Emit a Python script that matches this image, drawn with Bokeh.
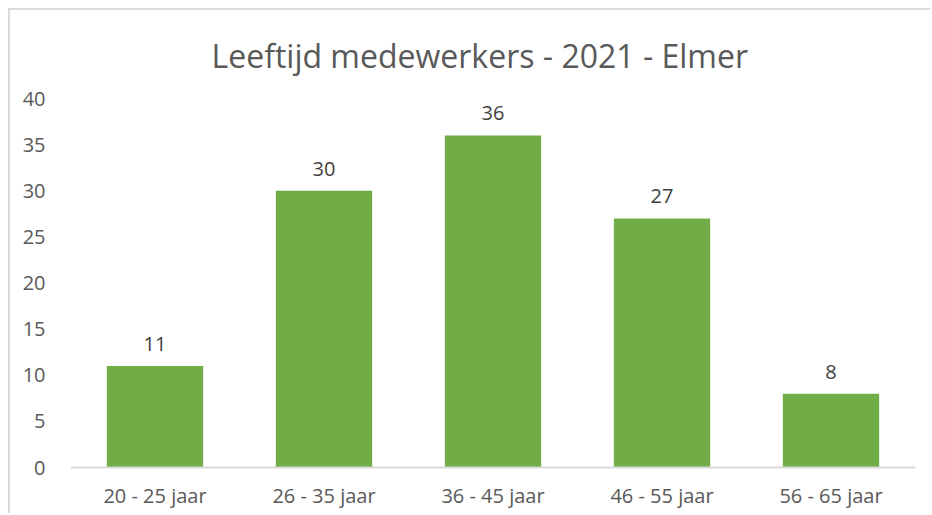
from bokeh.plotting import figure
from bokeh.models import ColumnDataSource, Range1d, FactorRange, Title
from bokeh.embed import file_html
from bokeh.resources import INLINE
from bokeh.core.properties import value

categories = ["20 - 25 jaar", "26 - 35 jaar", "36 - 45 jaar", "46 - 55 jaar", "56 - 65 jaar"]
counts = [11, 30, 36, 27, 8]
y_ticks = [0, 5, 10, 15, 20, 25, 30, 35, 40]
title_text = "Leeftijd medewerkers - 2021 - Elmer"

FONT = "Open Sans"

src = ColumnDataSource(dict(cat=categories, val=counts, lab=[str(v) for v in counts]))

p = figure(x_range=FactorRange(*categories, range_padding=0),
           y_range=Range1d(0, 40),
           width=922, height=505, output_backend="svg", toolbar_location=None,
           min_border_left=60, min_border_right=17, min_border_top=88, min_border_bottom=48)
p.styles = {"margin-left": "8px", "margin-top": "8px",
            "border-left": "2px solid #d9d9d9", "border-top": "2px solid #d9d9d9"}

p.title = Title(text=title_text, align="left", text_font=FONT, text_font_size="32px",
                text_color="#595959", text_font_style="normal", offset=141, standoff=43)

p.vbar(x="cat", top="val", width=0.57, source=src, fill_color="#70AD47", line_color=None)
p.text(x="cat", y="val", text="lab", source=src, text_align="center", text_baseline="bottom",
       y_offset=-15, text_font=value(FONT), text_font_size="20px", text_color="#404040")

p.outline_line_color = None
p.xgrid.grid_line_color = None
p.ygrid.grid_line_color = None

p.yaxis.ticker = y_ticks
p.yaxis.axis_line_color = None
p.yaxis.major_tick_line_color = None
p.yaxis.minor_tick_line_color = None
p.yaxis.major_label_text_font = FONT
p.yaxis.major_label_text_font_size = "20px"
p.yaxis.major_label_text_color = "#595959"
p.yaxis.major_label_standoff = 19

p.xaxis.axis_line_color = "#d9d9d9"
p.xaxis.axis_line_width = 2
p.xaxis.major_tick_line_color = None
p.xaxis.minor_tick_line_color = None
p.xaxis.major_label_text_font = FONT
p.xaxis.major_label_text_font_size = "20px"
p.xaxis.major_label_text_color = "#595959"
p.xaxis.major_label_standoff = 8

open("out.html", "w").write(file_html(p, INLINE))
